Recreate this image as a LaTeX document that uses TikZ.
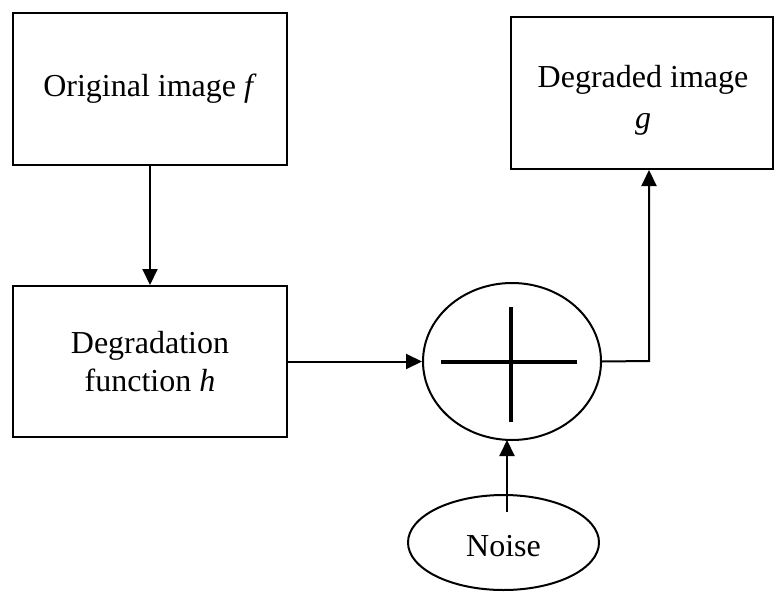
\documentclass[tikz,border=0pt]{standalone}
\usepackage{fontspec}
\setmainfont{Liberation Serif}
\usetikzlibrary{shapes.geometric,arrows.meta,calc}
\begin{document}
\begin{tikzpicture}[x=1pt,y=-1pt,
  every node/.style={font=\fontsize{32}{38.5}\selectfont, align=center, inner sep=0pt},
  block/.style={draw, line width=2pt, rectangle},
  oval/.style={draw, line width=2pt, ellipse},
  link/.style={line width=2pt, -{Triangle[length=16pt,width=15pt]}},
  crossbar/.style={line width=4pt}]
\useasboundingbox (0,0) rectangle (775,591);

% blocks
\node[block, minimum width=274pt, minimum height=152pt] (orig) at (150,89) {Original image \textit{f}};
\node[block, minimum width=262pt, minimum height=152pt] (degr) at (642,93) {};
\node[font=\fontsize{32}{41}\selectfont] (degrlabel) at (643,100) {Degraded image\\\textit{g}};
\node[block, minimum width=274pt, minimum height=151pt] (hfun) at (150,361.5) {Degradation\\function \textit{h}};

% summing junction
\node[oval, minimum width=178pt, minimum height=157pt] (sum) at (512,361.5) {};
\draw[crossbar] ($(sum.center)+(-71,0.5)$) -- ($(sum.center)+(65,0.5)$);
\draw[crossbar] ($(sum.center)+(-1,-54.5)$) -- ($(sum.center)+(-1,60.5)$);

% noise source
\node[oval, minimum width=191pt, minimum height=95pt] (noise) at (503.5,542.5) {};
\node (noiselabel) at (503.5,546) {Noise};

% connectors
\draw[link] (orig.south) -- (hfun.north);
\draw[link] (hfun.east |- sum.west) -- (sum.west);
\coordinate (turn) at (649,361);
\draw[link] (sum.east) -- (turn) -- (turn |- degr.south);
\coordinate (nstart) at (507,512);
\draw[link] (nstart) -- (507,440);
\end{tikzpicture}
\end{document}
